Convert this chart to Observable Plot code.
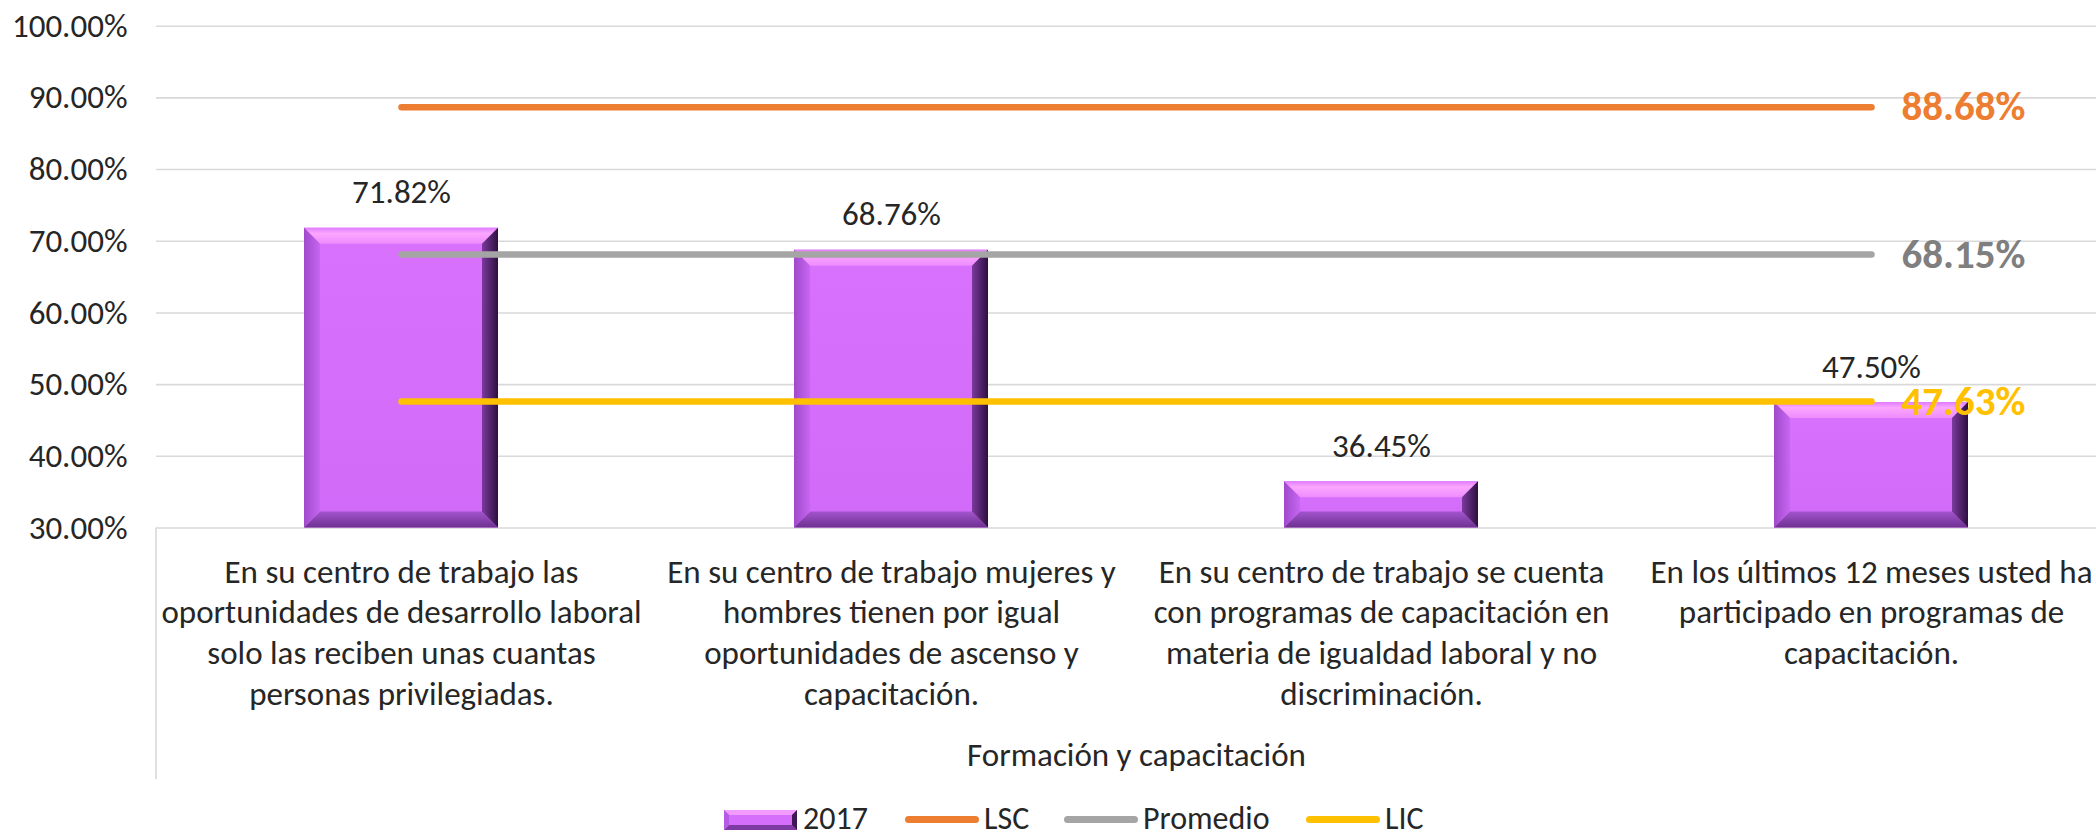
<!DOCTYPE html>
<html>
<head>
<meta charset="utf-8">
<script src="https://cdn.jsdelivr.net/npm/d3@7"></script>
<script src="https://cdn.jsdelivr.net/npm/@observablehq/plot@0.6"></script>
<style>
  html, body { margin: 0; padding: 0; background: #fff; overflow: hidden; }
  body { position: relative; width: 2096px; height: 839px; font-family: Carlito, Calibri, Lato, sans-serif; }
  #wrap { width: 2096px; height: 800px; overflow: hidden; position: absolute; left: 0; top: 0; }
  #chart svg { max-width: none !important; }
  #legend { position: absolute; top: 800px; left: 0; width: 2096px; height: 39px;
            font-size: 32px; line-height: 1.2; color: #262626; white-space: nowrap; }
  .item { position: absolute; top: 0; height: 39px; display: flex; align-items: center; }
  .ln { width: 74px; height: 7px; border-radius: 4px; }
</style>
</head>
<body>
<div id="wrap"><div id="chart"></div></div>
<div id="legend"></div>
<script>
// ---- data ----
const categories = [
  "En su centro de trabajo las\noportunidades de desarrollo laboral\nsolo las reciben unas cuantas\npersonas privilegiadas.",
  "En su centro de trabajo mujeres y\nhombres tienen por igual\noportunidades de ascenso y\ncapacitación.",
  "En su centro de trabajo se cuenta\ncon programas de capacitación en\nmateria de igualdad laboral y no\ndiscriminación.",
  "En los últimos 12 meses usted ha\nparticipado en programas de\ncapacitación."
];
const values2017 = [71.82, 68.76, 36.45, 47.50];
const valuesLSC = [88.68, 88.68, 88.68, 88.68];
const valuesPromedio = [68.15, 68.15, 68.15, 68.15];
const valuesLIC = [47.63, 47.63, 47.63, 47.63];
const yTicks = [30, 40, 50, 60, 70, 80, 90, 100];
const axisTitle = "Formación y capacitación";
const seriesNames = ["2017", "LSC", "Promedio", "LIC"];
const lineColors = {LSC: "#ED7D31", Promedio: "#A5A5A5", LIC: "#FFC000"};
const endLabelColors = {LSC: "#ED7D31", Promedio: "#7F7F7F", LIC: "#FFC000"};

// ---- tables ----
const bars = categories.map((c, i) => ({cat: c, value: values2017[i]}));
const lineSeries = [["LSC", valuesLSC], ["Promedio", valuesPromedio], ["LIC", valuesLIC]];
const lines = lineSeries.flatMap(([s, vals]) => categories.map((c, i) => ({series: s, cat: c, value: vals[i]})));
const endLabels = lineSeries.map(([s, vals]) => ({series: s, cat: categories[categories.length - 1], value: vals[vals.length - 1]}));

const fmt = v => v.toFixed(2) + "%";
const FONT = "Carlito, Calibri, Lato, sans-serif";

const chart = Plot.plot({
  width: 2116,
  height: 800,
  marginLeft: 156,
  marginRight: 0,
  marginTop: 25.7,
  marginBottom: 272.5,
  style: {fontFamily: FONT, fontSize: "33px", color: "#262626", background: "#fff", overflow: "visible", maxWidth: "none"},
  x: {type: "band", domain: categories, padding: 0, axis: null},
  y: {domain: [30, 100], axis: null},
  marks: [
    Plot.ruleY(yTicks, {stroke: "#D9D9D9", strokeWidth: 1.6}),
    Plot.axisY({ticks: yTicks, tickFormat: fmt, tickSize: 0, tickPadding: 29, fontSize: 33, fill: "#262626", label: null}),
    Plot.barY(bars, {x: "cat", y1: 30, y2: "value", fill: "#D56EFB", insetLeft: 148, insetRight: 148}),
    Plot.line(lines, {x: "cat", y: "value", z: "series", stroke: d => lineColors[d.series], strokeWidth: 6.5, strokeLinecap: "round"}),
    Plot.text(bars, {x: "cat", y: "value", text: d => fmt(d.value), dy: -25, lineAnchor: "bottom", fontSize: 33, fill: "#262626"}),
    Plot.text(endLabels, {x: "cat", y: "value", text: d => fmt(d.value), dx: 30, textAnchor: "start", lineAnchor: "middle",
      fontSize: 41, fontWeight: "bold", fill: d => endLabelColors[d.series]}),
    Plot.text(categories, {x: d => d, frameAnchor: "bottom", lineAnchor: "top", lineHeight: 1.24, dy: 25.5, fontSize: 33, fill: "#262626"}),
    Plot.text([axisTitle], {frameAnchor: "bottom", lineAnchor: "bottom", dy: 238, fontSize: 33, fill: "#262626"})
  ]
});

document.getElementById("chart").appendChild(chart);

// ---- bevel decoration derived from the rendered bars ----
const svg = d3.select(chart);
const defs = svg.append("defs");
function grad(id, x1, y1, x2, y2, stops) {
  const g = defs.append("linearGradient").attr("id", id)
    .attr("x1", x1).attr("y1", y1).attr("x2", x2).attr("y2", y2);
  stops.forEach(([o, c]) => g.append("stop").attr("offset", o).attr("stop-color", c));
}
grad("bvTop", 0, 0, 0, 1, [[0, "#E07CFF"], [0.35, "#FBA6FF"], [1, "#EE8CFF"]]);
grad("bvBot", 0, 0, 0, 1, [[0, "#A354CE"], [1, "#6E3190"]]);
grad("bvLeft", 0, 0, 1, 0, [[0, "#A04ACB"], [1, "#C766F2"]]);
grad("bvRight", 0, 0, 1, 0, [[0, "#7A3A9C"], [1, "#2E0F40"]]);
grad("bvFace", 0, 0, 0, 1, [[0, "#D872FD"], [1, "#D16AF8"]]);

const b = 16;
svg.selectAll("g[aria-label='bar'] rect").each(function() {
  const r = d3.select(this);
  const x = +r.attr("x"), y = +r.attr("y"), w = +r.attr("width"), h = +r.attr("height");
  r.attr("fill", "url(#bvFace)");
  const g = d3.select(this.parentNode);
  const bb = Math.min(b, h / 2, w / 2);
  const poly = (pts, fill) => g.append("polygon").attr("points", pts.map(p => p.join(",")).join(" ")).attr("fill", fill);
  poly([[x, y], [x + w, y], [x + w - bb, y + bb], [x + bb, y + bb]], "url(#bvTop)");
  poly([[x, y + h], [x + w, y + h], [x + w - bb, y + h - bb], [x + bb, y + h - bb]], "url(#bvBot)");
  poly([[x, y], [x + bb, y + bb], [x + bb, y + h - bb], [x, y + h]], "url(#bvLeft)");
  poly([[x + w, y], [x + w - bb, y + bb], [x + w - bb, y + h - bb], [x + w, y + h]], "url(#bvRight)");
});

// left divider of the category axis
svg.append("line").attr("x1", 156).attr("x2", 156).attr("y1", 527.5).attr("y2", 779)
  .attr("stroke", "#D9D9D9").attr("stroke-width", 1.6);

// ---- legend ----
const legend = d3.select("#legend");
const itemLeft = [724, 905, 1064, 1306];
seriesNames.forEach((name, i) => {
  const item = legend.append("div").attr("class", "item").style("left", itemLeft[i] + "px");
  if (name === "2017") {
    const w = 73, h = 20, k = 5;
    const s = item.append("svg").attr("width", w).attr("height", h).style("margin-right", "6px");
    s.append("rect").attr("width", w).attr("height", h).attr("fill", "#D56EFB");
    const P = (pts, f) => s.append("polygon").attr("points", pts.map(p => p.join(",")).join(" ")).attr("fill", f);
    P([[0,0],[w,0],[w-k,k],[k,k]], "#F39AFF");
    P([[0,h],[w,h],[w-k,h-k],[k,h-k]], "#7E3AA3");
    P([[0,0],[k,k],[k,h-k],[0,h]], "#B55CE3");
    P([[w,0],[w-k,k],[w-k,h-k],[w,h]], "#3F1754");
  } else {
    item.append("div").attr("class", "ln").style("background", lineColors[name]).style("margin-right", "5px");
  }
  item.append("span").text(name);
});
</script>
</body>
</html>
